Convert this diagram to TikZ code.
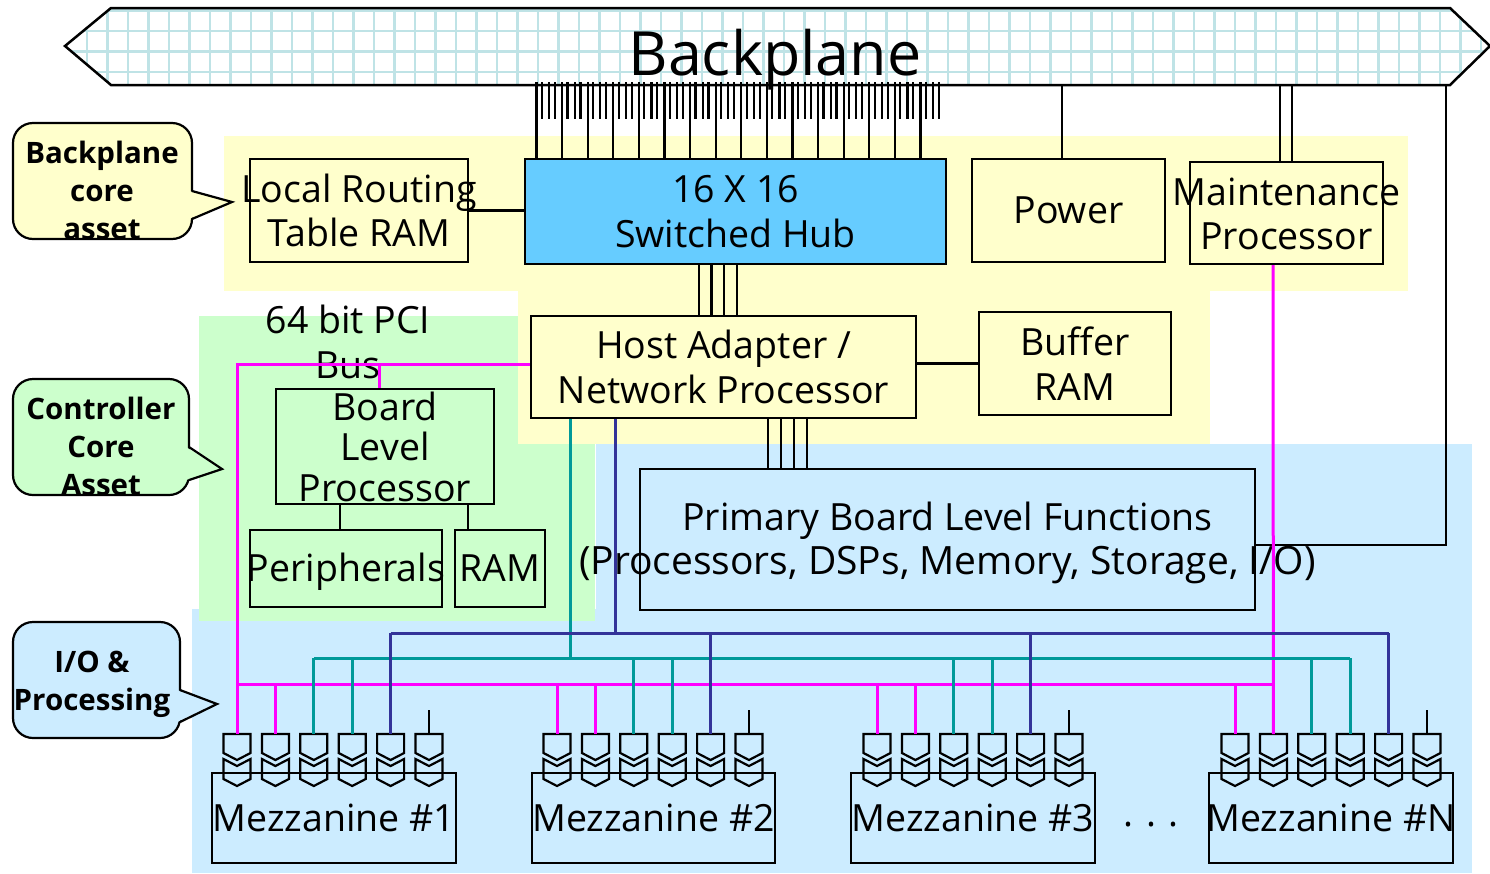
\documentclass[tikz,border=0pt]{standalone}
\usepackage{fontspec}
\setmainfont{Open Sans}
\definecolor{yellowbg}{HTML}{FFFFCC}
\definecolor{greenbg}{HTML}{CCFFCC}
\definecolor{bluebg}{HTML}{CCECFF}
\definecolor{hubblue}{HTML}{66CCFF}
\definecolor{gridcol}{HTML}{BFE3E6}
\definecolor{tealbus}{HTML}{009999}
\definecolor{navybus}{HTML}{333399}
\definecolor{magbus}{HTML}{FF00FF}
\tikzset{
  boxnode/.style={draw=black,line width=2.2pt,inner sep=0pt},
  textnode/.style={inner sep=0pt,align=center,font=\fontsize{37.5}{44.5}\selectfont},
  tagtext/.style={inner sep=0pt,align=center,font=\fontsize{29.5}{38}\selectfont\bfseries},
  tagbody/.style={draw=black,line width=2.2pt,rounded corners=20pt},
  wire/.style={draw=black,line width=2.2pt},
  magwire/.style={draw=magbus,line width=3pt},
  tealwire/.style={draw=tealbus,line width=3pt},
  navywire/.style={draw=navybus,line width=3pt},
  socket/.pic={
    \draw[black,line width=2.2pt,line join=miter] (-13.5,0) -- (13.5,0) -- (13.5,19) -- (0,26) -- (-13.5,19) -- cycle;
    \draw[black,line width=2.2pt,line join=miter] (-13.5,25) -- (0,32) -- (13.5,25) -- (13.5,45) -- (0,52) -- (-13.5,45) -- cycle;
    \coordinate (-top) at (0,0);
  }
}
\begin{document}
\begin{tikzpicture}[x=1pt,y=-1pt]
  \useasboundingbox (0,0) rectangle (1490,873);

  % Fondos
  \fill[bluebg] (596,444) rectangle (1472,873);
  \fill[bluebg] (192,609) rectangle (596,873);
  \fill[greenbg] (199,316) rectangle (595,621);
  \fill[yellowbg] (224,136) rectangle (1408,291);
  \fill[yellowbg] (518,291) rectangle (1210,444);

  % Backplane
  \begin{scope}
    \clip (65,46) -- (111,8) -- (1450,8) -- (1490,46) -- (1450,85) -- (111,85) -- cycle;
    \foreach \x in {87,107.5,...,1490}
      \draw[gridcol,line width=2.5pt] (\x,8) -- (\x,85);
    \foreach \y in {10.5,31,51.5,72}
      \draw[gridcol,line width=2.5pt] (65,\y) -- (1490,\y);
  \end{scope}
  \draw[black,line width=2.5pt] (65,46) -- (111,8) -- (1450,8) -- (1490,46) -- (1450,85) -- (111,85) -- cycle;

  % Cajas
  \node[boxnode,minimum width=218pt,minimum height=103pt,
    label={[textnode]center:Local Routing\\Table RAM}] (routing) at (359,210.5) {};
  \node[boxnode,fill=hubblue,minimum width=421pt,minimum height=105pt,
    label={[textnode]center:16 X 16\\Switched Hub}] (hub) at (735.5,211.5) {};
  \node[boxnode,minimum width=193pt,minimum height=103pt,
    label={[textnode]center:Power}] (power) at (1068.5,210.5) {};
  \node[boxnode,minimum width=193pt,minimum height=102pt,
    label={[textnode,yshift=-1pt]center:Maintenance\\Processor}] (maint) at (1286.5,213) {};
  \node[boxnode,minimum width=385pt,minimum height=102pt,
    label={[textnode]center:Host Adapter /\\Network Processor}] (host) at (723.5,367) {};
  \node[boxnode,minimum width=192pt,minimum height=103pt,
    label={[textnode]center:Buffer\\RAM}] (buffer) at (1075,363.5) {};
  \node[boxnode,minimum width=218pt,minimum height=115pt,
    label={[textnode,font=\fontsize{37.5}{40.5}\selectfont]center:Board\\Level\\Processor}] (blp) at (385,446.5) {};
  \node[boxnode,minimum width=192pt,minimum height=77pt,
    label={[textnode,yshift=-3pt]center:Peripherals}] (periph) at (346,568.5) {};
  \node[boxnode,minimum width=90pt,minimum height=77pt,
    label={[textnode]center:RAM}] (ram) at (500,568.5) {};
  \node[boxnode,minimum width=615pt,minimum height=141pt,
    label={[textnode,yshift=-3.5pt]center:Primary Board Level Functions\\{\fontsize{39}{44.5}\selectfont(Processors, DSPs, Memory, Storage, I/O)}}] (primary) at (947.5,539.5) {};
  \node[boxnode,minimum width=244pt,minimum height=90pt,
    label={[textnode]center:Mezzanine \#1}] (mezz1) at (334,818) {};
  \node[boxnode,minimum width=243pt,minimum height=90pt,
    label={[textnode]center:Mezzanine \#2}] (mezz2) at (653.5,818) {};
  \node[boxnode,minimum width=244pt,minimum height=90pt,
    label={[textnode]center:Mezzanine \#3}] (mezz3) at (973,818) {};
  \node[boxnode,minimum width=244pt,minimum height=90pt,
    label={[textnode]center:Mezzanine \#N}] (mezz4) at (1331,818) {};

  % Textos sueltos
  \node[textnode] (pcibus) at (348,342) {64 bit PCI\\Bus};
  \node[textnode] (dots) at (1151,825) {. . .};
  \node[inner sep=0pt,font=\fontsize{61}{70}\selectfont] (bptext) at (775,60) {Backplane};

  % Conectores de las mezzanine
  \foreach \g/\xg in {1/237,2/557,3/877,4/1235}
    \foreach \i in {1,...,6}
      \pic (c\g\i) at ({\xg+38.4*(\i-1)},734) {socket};

  % Lineas hacia el backplane
  \foreach \i in {0,...,15} {
    \draw[wire] ([xshift={12.5+25.6*\i}]hub.north west) -- ++(0,-76);
    \foreach \d in {5.5,12.7,18.5}
      \draw[wire] ([xshift={12.5+25.6*\i+\d},yshift=39]hub.north west) -- ++(0,-37);
  }
  \draw[wire] (power.north -| 1062,0) -- (1062,85);
  \draw[wire] (maint.north -| 1280,0) -- (1280,85);
  \draw[wire] (maint.north -| 1292,0) -- (1292,85);
  \draw[wire] (routing.east) -- (hub.west |- routing.east);
  \foreach \x in {699,711.5,724,737}
    \draw[wire] (hub.south -| \x,0) -- (host.north -| \x,0);
  \foreach \x in {768,781,794,807}
    \draw[wire] (host.south -| \x,0) -- (primary.north -| \x,0);
  \draw[wire] (host.east |- buffer.west) -- (buffer.west);
  \draw[wire] (blp.south -| 340,0) -- (periph.north -| 340,0);
  \draw[wire] (blp.south -| 468,0) -- (ram.north -| 468,0);
  \draw[wire] (1446,85) -- (1446,545) -- (primary.east |- 0,545);

  % Buses
  \coordinate (magleft) at (c11-top |- 0,364);
  \coordinate (magmid) at (c11-top |- 0,684);
  \draw[magwire] (host.west |- magleft) -- (magleft) -- (c11-top);
  \draw[magwire] (379,364) -- (blp.north -| 379,0);
  \draw[magwire] (maint.south -| 1273,0) -- (c42-top);
  \draw[magwire] (magmid) -- (c42-top |- magmid);
  \foreach \c in {c12,c21,c22,c31,c32,c41}
    \draw[magwire] (\c-top |- magmid) -- (\c-top);

  \coordinate (tealbar) at (c13-top |- 0,658);
  \draw[tealwire] (host.south -| 570,0) -- (570,658);
  \draw[tealwire] (tealbar) -- (c44-top |- tealbar);
  \foreach \c in {c13,c14,c23,c24,c33,c34,c43,c44}
    \draw[tealwire] (\c-top |- tealbar) -- (\c-top);

  \coordinate (navybar) at (c15-top |- 0,633);
  \draw[navywire] (host.south -| 615,0) -- (615,633);
  \draw[navywire] (navybar) -- (c45-top |- navybar);
  \foreach \c in {c15,c25,c35,c45}
    \draw[navywire] (\c-top |- navybar) -- (\c-top);

  \foreach \c in {c16,c26,c36,c46}
    \draw[wire] (\c-top) -- ++(0,-24);

  % Etiquetas
  \draw[tagbody,fill=yellowbg] (13,123) rectangle (192,239);
  \fill[yellowbg] (189,191) -- (232,202) -- (189,219) -- cycle;
  \draw[wire,line join=miter] (192,191) -- (232,202) -- (192,219);
  \node[tagtext] (tagback) at (102,190) {Backplane\\core\\asset};

  \draw[tagbody,fill=greenbg] (13,379) rectangle (189,495);
  \fill[greenbg] (186,447) -- (222,469) -- (186,480) -- cycle;
  \draw[wire,line join=miter] (189,447) -- (222,469) -- (189,480);
  \node[tagtext] (tagctrl) at (101,446) {Controller\\Core\\Asset};

  \draw[tagbody,fill=bluebg] (13,622) rectangle (180,738);
  \fill[bluebg] (177,690) -- (217,704) -- (177,722) -- cycle;
  \draw[wire,line join=miter] (180,690) -- (217,704) -- (180,722);
  \node[tagtext] (tagio) at (92,684) {I/O \&\\Processing};
\end{tikzpicture}
\end{document}
